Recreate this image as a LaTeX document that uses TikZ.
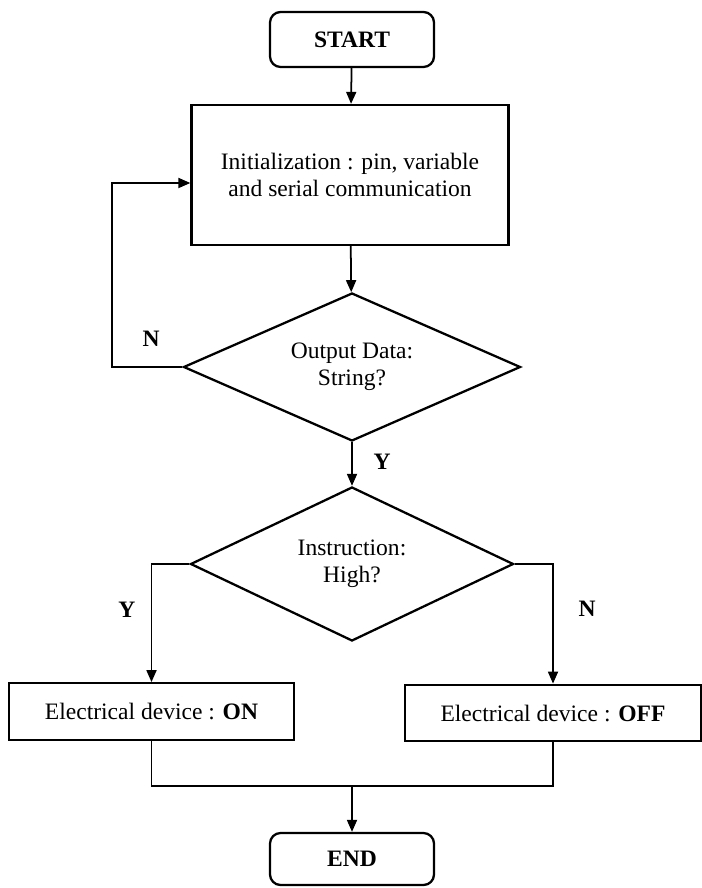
\documentclass[tikz,border=0pt]{standalone}
\usepackage{fontspec}
\setmainfont{Liberation Serif}
\usetikzlibrary{arrows.meta,shapes.geometric}
\newcommand\chartfont{\fontsize{13.4}{15.3}\selectfont}
\tikzset{
	termbox/.style={draw, line width=1.3pt, rounded corners=6pt, minimum width=3.28cm, minimum height=1.1cm, font=\chartfont\bfseries},
	procbox/.style={draw, line width=1.3pt, minimum height=1.13cm, inner sep=0pt, font=\chartfont},
	askbox/.style={draw, diamond, aspect=2.2, line width=1.3pt, inner sep=0pt, align=center, font=\chartfont},
	flow/.style={line width=1pt, -{Triangle[length=0.24cm, width=0.2cm]}},
	joinline/.style={line width=1pt},
	yesno/.style={font=\chartfont\bfseries}
}

\begin{document}
\begin{tikzpicture}
			%%%%% START %%%%%
			\useasboundingbox (0, 0) rectangle (14.02, -17.76);
			
			\node[termbox] (start) at (7.04, -0.79) {START};
			\node[procbox, minimum width=6.34cm, minimum height=2.8cm, align=center] (init) at (7.0, -3.5) {Initialization : pin, variable\\and serial communication};
			
			\node[askbox, minimum width=6.74cm, minimum height=2.96cm] (output) at (7.04, -7.34) {Output Data:\\String?};
			\node[askbox, minimum width=6.46cm, minimum height=3.08cm] (instr) at (7.04, -11.28) {Instruction:\\High?};
			
			\node[procbox, minimum width=5.7cm] (devon) at (3.03, -14.23) {Electrical device : \textbf{ON}};
			\node[procbox, minimum width=5.92cm] (devoff) at (11.06, -14.26) {Electrical device : \textbf{OFF}};
			
			\node[termbox, minimum height=1.04cm] (finish) at (7.04, -17.18) {END};
			
			\coordinate (loop) at (2.24, -7.34);
			\coordinate (merge) at (7.04, -15.72);
			
			\draw[flow] (start) -- (init);
			\draw[flow] (init) -- (output);
			\draw[flow] (output.west) -- (loop) |- ([yshift=-0.16cm]init.west);
			\draw[flow] (output) -- (instr);
			\draw[flow] (instr.west) -| (devon.north);
			\draw[flow] (instr.east) -| (devoff.north);
			\draw[joinline] (devon) |- (merge) -| (devoff);
			\draw[flow] (merge) -- (finish);
			
			\node[yesno] (nloop) at (3.02, -6.78) {N};
			\node[yesno] (ydown) at (7.64, -9.24) {Y};
			\node[yesno] (yon) at (2.54, -12.2) {Y};
			\node[yesno] (noff) at (11.74, -12.18) {N};
			
			%%%%% END %%%%%
		\end{tikzpicture}
\end{document}
